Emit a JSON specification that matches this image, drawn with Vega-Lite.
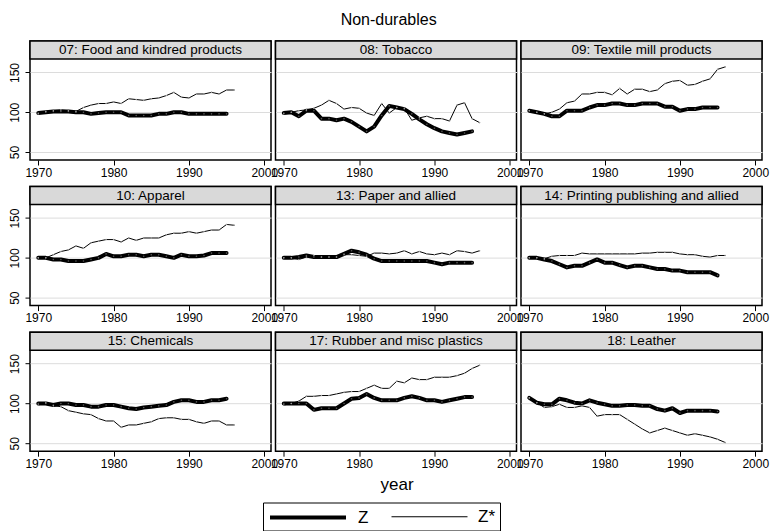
{
"$schema": "https://vega.github.io/schema/vega-lite/v6.json",
"background": "white",
"padding": {"left": 8, "top": 11, "right": 2, "bottom": 0},
"title": {"text": "Non-durables", "fontSize": 16, "fontWeight": "normal", "font": "Liberation Sans", "color": "black", "anchor": "middle", "offset": 12},
"datasets": {
"titles": [
{"p":"07","t":"07: Food and kindred products"},
{"p":"08","t":"08: Tobacco"},
{"p":"09","t":"09: Textile mill products"},
{"p":"10","t":"10: Apparel"},
{"p":"13","t":"13: Paper and allied"},
{"p":"14","t":"14: Printing publishing and allied"},
{"p":"15","t":"15: Chemicals"},
{"p":"17","t":"17: Rubber and misc plastics"},
{"p":"18","t":"18: Leather"}
],
"d": [
{"p":"07","s":"Z","x":1970,"y":99},{"p":"07","s":"Z","x":1971,"y":100},{"p":"07","s":"Z","x":1972,"y":101},{"p":"07","s":"Z","x":1973,"y":101},{"p":"07","s":"Z","x":1974,"y":101},{"p":"07","s":"Z","x":1975,"y":100},{"p":"07","s":"Z","x":1976,"y":100},{"p":"07","s":"Z","x":1977,"y":98},{"p":"07","s":"Z","x":1978,"y":99},{"p":"07","s":"Z","x":1979,"y":100},{"p":"07","s":"Z","x":1980,"y":100},{"p":"07","s":"Z","x":1981,"y":100},{"p":"07","s":"Z","x":1982,"y":96},{"p":"07","s":"Z","x":1983,"y":96},{"p":"07","s":"Z","x":1984,"y":96},{"p":"07","s":"Z","x":1985,"y":96},{"p":"07","s":"Z","x":1986,"y":98},{"p":"07","s":"Z","x":1987,"y":98},{"p":"07","s":"Z","x":1988,"y":100},{"p":"07","s":"Z","x":1989,"y":100},{"p":"07","s":"Z","x":1990,"y":98},{"p":"07","s":"Z","x":1991,"y":98},{"p":"07","s":"Z","x":1992,"y":98},{"p":"07","s":"Z","x":1993,"y":98},{"p":"07","s":"Z","x":1994,"y":98},{"p":"07","s":"Z","x":1995,"y":98},
{"p":"07","s":"Z*","x":1970,"y":98},{"p":"07","s":"Z*","x":1971,"y":101},{"p":"07","s":"Z*","x":1972,"y":102},{"p":"07","s":"Z*","x":1973,"y":103},{"p":"07","s":"Z*","x":1974,"y":102},{"p":"07","s":"Z*","x":1975,"y":101},{"p":"07","s":"Z*","x":1976,"y":106},{"p":"07","s":"Z*","x":1977,"y":109},{"p":"07","s":"Z*","x":1978,"y":111},{"p":"07","s":"Z*","x":1979,"y":111},{"p":"07","s":"Z*","x":1980,"y":113},{"p":"07","s":"Z*","x":1981,"y":111},{"p":"07","s":"Z*","x":1982,"y":117},{"p":"07","s":"Z*","x":1983,"y":116},{"p":"07","s":"Z*","x":1984,"y":115},{"p":"07","s":"Z*","x":1985,"y":117},{"p":"07","s":"Z*","x":1986,"y":118},{"p":"07","s":"Z*","x":1987,"y":121},{"p":"07","s":"Z*","x":1988,"y":125},{"p":"07","s":"Z*","x":1989,"y":119},{"p":"07","s":"Z*","x":1990,"y":118},{"p":"07","s":"Z*","x":1991,"y":123},{"p":"07","s":"Z*","x":1992,"y":123},{"p":"07","s":"Z*","x":1993,"y":125},{"p":"07","s":"Z*","x":1994,"y":123},{"p":"07","s":"Z*","x":1995,"y":128},{"p":"07","s":"Z*","x":1996,"y":128},
{"p":"08","s":"Z","x":1970,"y":99},{"p":"08","s":"Z","x":1971,"y":100},{"p":"08","s":"Z","x":1972,"y":95},{"p":"08","s":"Z","x":1973,"y":102},{"p":"08","s":"Z","x":1974,"y":102},{"p":"08","s":"Z","x":1975,"y":92},{"p":"08","s":"Z","x":1976,"y":92},{"p":"08","s":"Z","x":1977,"y":90},{"p":"08","s":"Z","x":1978,"y":92},{"p":"08","s":"Z","x":1979,"y":88},{"p":"08","s":"Z","x":1980,"y":82},{"p":"08","s":"Z","x":1981,"y":76},{"p":"08","s":"Z","x":1982,"y":82},{"p":"08","s":"Z","x":1983,"y":96},{"p":"08","s":"Z","x":1984,"y":108},{"p":"08","s":"Z","x":1985,"y":106},{"p":"08","s":"Z","x":1986,"y":104},{"p":"08","s":"Z","x":1987,"y":98},{"p":"08","s":"Z","x":1988,"y":91},{"p":"08","s":"Z","x":1989,"y":85},{"p":"08","s":"Z","x":1990,"y":80},{"p":"08","s":"Z","x":1991,"y":76},{"p":"08","s":"Z","x":1992,"y":74},{"p":"08","s":"Z","x":1993,"y":72},{"p":"08","s":"Z","x":1994,"y":74},{"p":"08","s":"Z","x":1995,"y":76},
{"p":"08","s":"Z*","x":1970,"y":98},{"p":"08","s":"Z*","x":1971,"y":100},{"p":"08","s":"Z*","x":1972,"y":102},{"p":"08","s":"Z*","x":1973,"y":103},{"p":"08","s":"Z*","x":1974,"y":105},{"p":"08","s":"Z*","x":1975,"y":109},{"p":"08","s":"Z*","x":1976,"y":115},{"p":"08","s":"Z*","x":1977,"y":111},{"p":"08","s":"Z*","x":1978,"y":104},{"p":"08","s":"Z*","x":1979,"y":106},{"p":"08","s":"Z*","x":1980,"y":105},{"p":"08","s":"Z*","x":1981,"y":99},{"p":"08","s":"Z*","x":1982,"y":96},{"p":"08","s":"Z*","x":1983,"y":111},{"p":"08","s":"Z*","x":1984,"y":99},{"p":"08","s":"Z*","x":1985,"y":106},{"p":"08","s":"Z*","x":1986,"y":105},{"p":"08","s":"Z*","x":1987,"y":90},{"p":"08","s":"Z*","x":1988,"y":93},{"p":"08","s":"Z*","x":1989,"y":95},{"p":"08","s":"Z*","x":1990,"y":92},{"p":"08","s":"Z*","x":1991,"y":92},{"p":"08","s":"Z*","x":1992,"y":89},{"p":"08","s":"Z*","x":1993,"y":109},{"p":"08","s":"Z*","x":1994,"y":112},{"p":"08","s":"Z*","x":1995,"y":92},{"p":"08","s":"Z*","x":1996,"y":87},
{"p":"09","s":"Z","x":1970,"y":102},{"p":"09","s":"Z","x":1971,"y":100},{"p":"09","s":"Z","x":1972,"y":98},{"p":"09","s":"Z","x":1973,"y":95},{"p":"09","s":"Z","x":1974,"y":95},{"p":"09","s":"Z","x":1975,"y":102},{"p":"09","s":"Z","x":1976,"y":102},{"p":"09","s":"Z","x":1977,"y":102},{"p":"09","s":"Z","x":1978,"y":106},{"p":"09","s":"Z","x":1979,"y":109},{"p":"09","s":"Z","x":1980,"y":109},{"p":"09","s":"Z","x":1981,"y":111},{"p":"09","s":"Z","x":1982,"y":111},{"p":"09","s":"Z","x":1983,"y":109},{"p":"09","s":"Z","x":1984,"y":109},{"p":"09","s":"Z","x":1985,"y":111},{"p":"09","s":"Z","x":1986,"y":111},{"p":"09","s":"Z","x":1987,"y":111},{"p":"09","s":"Z","x":1988,"y":107},{"p":"09","s":"Z","x":1989,"y":107},{"p":"09","s":"Z","x":1990,"y":102},{"p":"09","s":"Z","x":1991,"y":104},{"p":"09","s":"Z","x":1992,"y":104},{"p":"09","s":"Z","x":1993,"y":106},{"p":"09","s":"Z","x":1994,"y":106},{"p":"09","s":"Z","x":1995,"y":106},
{"p":"09","s":"Z*","x":1970,"y":102},{"p":"09","s":"Z*","x":1971,"y":100},{"p":"09","s":"Z*","x":1972,"y":98},{"p":"09","s":"Z*","x":1973,"y":100},{"p":"09","s":"Z*","x":1974,"y":104},{"p":"09","s":"Z*","x":1975,"y":112},{"p":"09","s":"Z*","x":1976,"y":114},{"p":"09","s":"Z*","x":1977,"y":123},{"p":"09","s":"Z*","x":1978,"y":123},{"p":"09","s":"Z*","x":1979,"y":125},{"p":"09","s":"Z*","x":1980,"y":125},{"p":"09","s":"Z*","x":1981,"y":122},{"p":"09","s":"Z*","x":1982,"y":130},{"p":"09","s":"Z*","x":1983,"y":123},{"p":"09","s":"Z*","x":1984,"y":129},{"p":"09","s":"Z*","x":1985,"y":129},{"p":"09","s":"Z*","x":1986,"y":126},{"p":"09","s":"Z*","x":1987,"y":128},{"p":"09","s":"Z*","x":1988,"y":136},{"p":"09","s":"Z*","x":1989,"y":139},{"p":"09","s":"Z*","x":1990,"y":140},{"p":"09","s":"Z*","x":1991,"y":134},{"p":"09","s":"Z*","x":1992,"y":135},{"p":"09","s":"Z*","x":1993,"y":139},{"p":"09","s":"Z*","x":1994,"y":142},{"p":"09","s":"Z*","x":1995,"y":154},{"p":"09","s":"Z*","x":1996,"y":157},
{"p":"10","s":"Z","x":1970,"y":100},{"p":"10","s":"Z","x":1971,"y":100},{"p":"10","s":"Z","x":1972,"y":98},{"p":"10","s":"Z","x":1973,"y":98},{"p":"10","s":"Z","x":1974,"y":96},{"p":"10","s":"Z","x":1975,"y":96},{"p":"10","s":"Z","x":1976,"y":96},{"p":"10","s":"Z","x":1977,"y":98},{"p":"10","s":"Z","x":1978,"y":100},{"p":"10","s":"Z","x":1979,"y":105},{"p":"10","s":"Z","x":1980,"y":102},{"p":"10","s":"Z","x":1981,"y":102},{"p":"10","s":"Z","x":1982,"y":104},{"p":"10","s":"Z","x":1983,"y":104},{"p":"10","s":"Z","x":1984,"y":102},{"p":"10","s":"Z","x":1985,"y":104},{"p":"10","s":"Z","x":1986,"y":104},{"p":"10","s":"Z","x":1987,"y":102},{"p":"10","s":"Z","x":1988,"y":100},{"p":"10","s":"Z","x":1989,"y":104},{"p":"10","s":"Z","x":1990,"y":102},{"p":"10","s":"Z","x":1991,"y":102},{"p":"10","s":"Z","x":1992,"y":103},{"p":"10","s":"Z","x":1993,"y":106},{"p":"10","s":"Z","x":1994,"y":106},{"p":"10","s":"Z","x":1995,"y":106},
{"p":"10","s":"Z*","x":1970,"y":100},{"p":"10","s":"Z*","x":1971,"y":100},{"p":"10","s":"Z*","x":1972,"y":104},{"p":"10","s":"Z*","x":1973,"y":108},{"p":"10","s":"Z*","x":1974,"y":110},{"p":"10","s":"Z*","x":1975,"y":115},{"p":"10","s":"Z*","x":1976,"y":112},{"p":"10","s":"Z*","x":1977,"y":119},{"p":"10","s":"Z*","x":1978,"y":121},{"p":"10","s":"Z*","x":1979,"y":123},{"p":"10","s":"Z*","x":1980,"y":123},{"p":"10","s":"Z*","x":1981,"y":120},{"p":"10","s":"Z*","x":1982,"y":125},{"p":"10","s":"Z*","x":1983,"y":122},{"p":"10","s":"Z*","x":1984,"y":125},{"p":"10","s":"Z*","x":1985,"y":125},{"p":"10","s":"Z*","x":1986,"y":125},{"p":"10","s":"Z*","x":1987,"y":129},{"p":"10","s":"Z*","x":1988,"y":131},{"p":"10","s":"Z*","x":1989,"y":131},{"p":"10","s":"Z*","x":1990,"y":133},{"p":"10","s":"Z*","x":1991,"y":131},{"p":"10","s":"Z*","x":1992,"y":133},{"p":"10","s":"Z*","x":1993,"y":135},{"p":"10","s":"Z*","x":1994,"y":135},{"p":"10","s":"Z*","x":1995,"y":142},{"p":"10","s":"Z*","x":1996,"y":141},
{"p":"13","s":"Z","x":1970,"y":100},{"p":"13","s":"Z","x":1971,"y":100},{"p":"13","s":"Z","x":1972,"y":101},{"p":"13","s":"Z","x":1973,"y":103},{"p":"13","s":"Z","x":1974,"y":101},{"p":"13","s":"Z","x":1975,"y":101},{"p":"13","s":"Z","x":1976,"y":101},{"p":"13","s":"Z","x":1977,"y":101},{"p":"13","s":"Z","x":1978,"y":105},{"p":"13","s":"Z","x":1979,"y":109},{"p":"13","s":"Z","x":1980,"y":107},{"p":"13","s":"Z","x":1981,"y":104},{"p":"13","s":"Z","x":1982,"y":99},{"p":"13","s":"Z","x":1983,"y":96},{"p":"13","s":"Z","x":1984,"y":96},{"p":"13","s":"Z","x":1985,"y":96},{"p":"13","s":"Z","x":1986,"y":96},{"p":"13","s":"Z","x":1987,"y":96},{"p":"13","s":"Z","x":1988,"y":96},{"p":"13","s":"Z","x":1989,"y":96},{"p":"13","s":"Z","x":1990,"y":94},{"p":"13","s":"Z","x":1991,"y":92},{"p":"13","s":"Z","x":1992,"y":94},{"p":"13","s":"Z","x":1993,"y":94},{"p":"13","s":"Z","x":1994,"y":94},{"p":"13","s":"Z","x":1995,"y":94},
{"p":"13","s":"Z*","x":1970,"y":100},{"p":"13","s":"Z*","x":1971,"y":100},{"p":"13","s":"Z*","x":1972,"y":98},{"p":"13","s":"Z*","x":1973,"y":101},{"p":"13","s":"Z*","x":1974,"y":103},{"p":"13","s":"Z*","x":1975,"y":101},{"p":"13","s":"Z*","x":1976,"y":101},{"p":"13","s":"Z*","x":1977,"y":101},{"p":"13","s":"Z*","x":1978,"y":104},{"p":"13","s":"Z*","x":1979,"y":104},{"p":"13","s":"Z*","x":1980,"y":103},{"p":"13","s":"Z*","x":1981,"y":102},{"p":"13","s":"Z*","x":1982,"y":106},{"p":"13","s":"Z*","x":1983,"y":106},{"p":"13","s":"Z*","x":1984,"y":105},{"p":"13","s":"Z*","x":1985,"y":106},{"p":"13","s":"Z*","x":1986,"y":109},{"p":"13","s":"Z*","x":1987,"y":105},{"p":"13","s":"Z*","x":1988,"y":108},{"p":"13","s":"Z*","x":1989,"y":105},{"p":"13","s":"Z*","x":1990,"y":104},{"p":"13","s":"Z*","x":1991,"y":106},{"p":"13","s":"Z*","x":1992,"y":104},{"p":"13","s":"Z*","x":1993,"y":109},{"p":"13","s":"Z*","x":1994,"y":108},{"p":"13","s":"Z*","x":1995,"y":106},{"p":"13","s":"Z*","x":1996,"y":109},
{"p":"14","s":"Z","x":1970,"y":100},{"p":"14","s":"Z","x":1971,"y":100},{"p":"14","s":"Z","x":1972,"y":98},{"p":"14","s":"Z","x":1973,"y":96},{"p":"14","s":"Z","x":1974,"y":92},{"p":"14","s":"Z","x":1975,"y":88},{"p":"14","s":"Z","x":1976,"y":90},{"p":"14","s":"Z","x":1977,"y":90},{"p":"14","s":"Z","x":1978,"y":94},{"p":"14","s":"Z","x":1979,"y":98},{"p":"14","s":"Z","x":1980,"y":94},{"p":"14","s":"Z","x":1981,"y":94},{"p":"14","s":"Z","x":1982,"y":91},{"p":"14","s":"Z","x":1983,"y":88},{"p":"14","s":"Z","x":1984,"y":90},{"p":"14","s":"Z","x":1985,"y":90},{"p":"14","s":"Z","x":1986,"y":88},{"p":"14","s":"Z","x":1987,"y":86},{"p":"14","s":"Z","x":1988,"y":86},{"p":"14","s":"Z","x":1989,"y":84},{"p":"14","s":"Z","x":1990,"y":84},{"p":"14","s":"Z","x":1991,"y":82},{"p":"14","s":"Z","x":1992,"y":82},{"p":"14","s":"Z","x":1993,"y":82},{"p":"14","s":"Z","x":1994,"y":82},{"p":"14","s":"Z","x":1995,"y":78},
{"p":"14","s":"Z*","x":1970,"y":100},{"p":"14","s":"Z*","x":1971,"y":100},{"p":"14","s":"Z*","x":1972,"y":99},{"p":"14","s":"Z*","x":1973,"y":102},{"p":"14","s":"Z*","x":1974,"y":103},{"p":"14","s":"Z*","x":1975,"y":103},{"p":"14","s":"Z*","x":1976,"y":103},{"p":"14","s":"Z*","x":1977,"y":106},{"p":"14","s":"Z*","x":1978,"y":105},{"p":"14","s":"Z*","x":1979,"y":105},{"p":"14","s":"Z*","x":1980,"y":105},{"p":"14","s":"Z*","x":1981,"y":105},{"p":"14","s":"Z*","x":1982,"y":105},{"p":"14","s":"Z*","x":1983,"y":105},{"p":"14","s":"Z*","x":1984,"y":105},{"p":"14","s":"Z*","x":1985,"y":106},{"p":"14","s":"Z*","x":1986,"y":106},{"p":"14","s":"Z*","x":1987,"y":107},{"p":"14","s":"Z*","x":1988,"y":107},{"p":"14","s":"Z*","x":1989,"y":107},{"p":"14","s":"Z*","x":1990,"y":105},{"p":"14","s":"Z*","x":1991,"y":104},{"p":"14","s":"Z*","x":1992,"y":104},{"p":"14","s":"Z*","x":1993,"y":102},{"p":"14","s":"Z*","x":1994,"y":101},{"p":"14","s":"Z*","x":1995,"y":103},{"p":"14","s":"Z*","x":1996,"y":103},
{"p":"15","s":"Z","x":1970,"y":100},{"p":"15","s":"Z","x":1971,"y":100},{"p":"15","s":"Z","x":1972,"y":98},{"p":"15","s":"Z","x":1973,"y":100},{"p":"15","s":"Z","x":1974,"y":100},{"p":"15","s":"Z","x":1975,"y":98},{"p":"15","s":"Z","x":1976,"y":98},{"p":"15","s":"Z","x":1977,"y":96},{"p":"15","s":"Z","x":1978,"y":96},{"p":"15","s":"Z","x":1979,"y":98},{"p":"15","s":"Z","x":1980,"y":98},{"p":"15","s":"Z","x":1981,"y":96},{"p":"15","s":"Z","x":1982,"y":94},{"p":"15","s":"Z","x":1983,"y":93},{"p":"15","s":"Z","x":1984,"y":95},{"p":"15","s":"Z","x":1985,"y":96},{"p":"15","s":"Z","x":1986,"y":97},{"p":"15","s":"Z","x":1987,"y":98},{"p":"15","s":"Z","x":1988,"y":102},{"p":"15","s":"Z","x":1989,"y":104},{"p":"15","s":"Z","x":1990,"y":104},{"p":"15","s":"Z","x":1991,"y":102},{"p":"15","s":"Z","x":1992,"y":102},{"p":"15","s":"Z","x":1993,"y":104},{"p":"15","s":"Z","x":1994,"y":104},{"p":"15","s":"Z","x":1995,"y":106},
{"p":"15","s":"Z*","x":1970,"y":98},{"p":"15","s":"Z*","x":1971,"y":101},{"p":"15","s":"Z*","x":1972,"y":97},{"p":"15","s":"Z*","x":1973,"y":96},{"p":"15","s":"Z*","x":1974,"y":91},{"p":"15","s":"Z*","x":1975,"y":89},{"p":"15","s":"Z*","x":1976,"y":87},{"p":"15","s":"Z*","x":1977,"y":86},{"p":"15","s":"Z*","x":1978,"y":81},{"p":"15","s":"Z*","x":1979,"y":78},{"p":"15","s":"Z*","x":1980,"y":78},{"p":"15","s":"Z*","x":1981,"y":70},{"p":"15","s":"Z*","x":1982,"y":73},{"p":"15","s":"Z*","x":1983,"y":73},{"p":"15","s":"Z*","x":1984,"y":75},{"p":"15","s":"Z*","x":1985,"y":77},{"p":"15","s":"Z*","x":1986,"y":81},{"p":"15","s":"Z*","x":1987,"y":82},{"p":"15","s":"Z*","x":1988,"y":82},{"p":"15","s":"Z*","x":1989,"y":80},{"p":"15","s":"Z*","x":1990,"y":80},{"p":"15","s":"Z*","x":1991,"y":77},{"p":"15","s":"Z*","x":1992,"y":75},{"p":"15","s":"Z*","x":1993,"y":78},{"p":"15","s":"Z*","x":1994,"y":78},{"p":"15","s":"Z*","x":1995,"y":73},{"p":"15","s":"Z*","x":1996,"y":73},
{"p":"17","s":"Z","x":1970,"y":100},{"p":"17","s":"Z","x":1971,"y":100},{"p":"17","s":"Z","x":1972,"y":100},{"p":"17","s":"Z","x":1973,"y":100},{"p":"17","s":"Z","x":1974,"y":92},{"p":"17","s":"Z","x":1975,"y":94},{"p":"17","s":"Z","x":1976,"y":94},{"p":"17","s":"Z","x":1977,"y":94},{"p":"17","s":"Z","x":1978,"y":100},{"p":"17","s":"Z","x":1979,"y":106},{"p":"17","s":"Z","x":1980,"y":107},{"p":"17","s":"Z","x":1981,"y":112},{"p":"17","s":"Z","x":1982,"y":107},{"p":"17","s":"Z","x":1983,"y":104},{"p":"17","s":"Z","x":1984,"y":104},{"p":"17","s":"Z","x":1985,"y":104},{"p":"17","s":"Z","x":1986,"y":107},{"p":"17","s":"Z","x":1987,"y":109},{"p":"17","s":"Z","x":1988,"y":107},{"p":"17","s":"Z","x":1989,"y":104},{"p":"17","s":"Z","x":1990,"y":104},{"p":"17","s":"Z","x":1991,"y":102},{"p":"17","s":"Z","x":1992,"y":104},{"p":"17","s":"Z","x":1993,"y":106},{"p":"17","s":"Z","x":1994,"y":108},{"p":"17","s":"Z","x":1995,"y":108},
{"p":"17","s":"Z*","x":1970,"y":98},{"p":"17","s":"Z*","x":1971,"y":100},{"p":"17","s":"Z*","x":1972,"y":103},{"p":"17","s":"Z*","x":1973,"y":109},{"p":"17","s":"Z*","x":1974,"y":109},{"p":"17","s":"Z*","x":1975,"y":110},{"p":"17","s":"Z*","x":1976,"y":110},{"p":"17","s":"Z*","x":1977,"y":112},{"p":"17","s":"Z*","x":1978,"y":114},{"p":"17","s":"Z*","x":1979,"y":115},{"p":"17","s":"Z*","x":1980,"y":115},{"p":"17","s":"Z*","x":1981,"y":119},{"p":"17","s":"Z*","x":1982,"y":123},{"p":"17","s":"Z*","x":1983,"y":119},{"p":"17","s":"Z*","x":1984,"y":119},{"p":"17","s":"Z*","x":1985,"y":128},{"p":"17","s":"Z*","x":1986,"y":126},{"p":"17","s":"Z*","x":1987,"y":132},{"p":"17","s":"Z*","x":1988,"y":130},{"p":"17","s":"Z*","x":1989,"y":130},{"p":"17","s":"Z*","x":1990,"y":133},{"p":"17","s":"Z*","x":1991,"y":133},{"p":"17","s":"Z*","x":1992,"y":133},{"p":"17","s":"Z*","x":1993,"y":135},{"p":"17","s":"Z*","x":1994,"y":138},{"p":"17","s":"Z*","x":1995,"y":144},{"p":"17","s":"Z*","x":1996,"y":148},
{"p":"18","s":"Z","x":1970,"y":107},{"p":"18","s":"Z","x":1971,"y":101},{"p":"18","s":"Z","x":1972,"y":99},{"p":"18","s":"Z","x":1973,"y":99},{"p":"18","s":"Z","x":1974,"y":106},{"p":"18","s":"Z","x":1975,"y":104},{"p":"18","s":"Z","x":1976,"y":101},{"p":"18","s":"Z","x":1977,"y":100},{"p":"18","s":"Z","x":1978,"y":104},{"p":"18","s":"Z","x":1979,"y":101},{"p":"18","s":"Z","x":1980,"y":99},{"p":"18","s":"Z","x":1981,"y":97},{"p":"18","s":"Z","x":1982,"y":97},{"p":"18","s":"Z","x":1983,"y":98},{"p":"18","s":"Z","x":1984,"y":98},{"p":"18","s":"Z","x":1985,"y":97},{"p":"18","s":"Z","x":1986,"y":97},{"p":"18","s":"Z","x":1987,"y":93},{"p":"18","s":"Z","x":1988,"y":91},{"p":"18","s":"Z","x":1989,"y":94},{"p":"18","s":"Z","x":1990,"y":88},{"p":"18","s":"Z","x":1991,"y":91},{"p":"18","s":"Z","x":1992,"y":91},{"p":"18","s":"Z","x":1993,"y":91},{"p":"18","s":"Z","x":1994,"y":91},{"p":"18","s":"Z","x":1995,"y":90},
{"p":"18","s":"Z*","x":1970,"y":107},{"p":"18","s":"Z*","x":1971,"y":101},{"p":"18","s":"Z*","x":1972,"y":95},{"p":"18","s":"Z*","x":1973,"y":96},{"p":"18","s":"Z*","x":1974,"y":99},{"p":"18","s":"Z*","x":1975,"y":95},{"p":"18","s":"Z*","x":1976,"y":95},{"p":"18","s":"Z*","x":1977,"y":97},{"p":"18","s":"Z*","x":1978,"y":95},{"p":"18","s":"Z*","x":1979,"y":84},{"p":"18","s":"Z*","x":1980,"y":86},{"p":"18","s":"Z*","x":1981,"y":86},{"p":"18","s":"Z*","x":1982,"y":86},{"p":"18","s":"Z*","x":1983,"y":80},{"p":"18","s":"Z*","x":1984,"y":74},{"p":"18","s":"Z*","x":1985,"y":68},{"p":"18","s":"Z*","x":1986,"y":63},{"p":"18","s":"Z*","x":1987,"y":66},{"p":"18","s":"Z*","x":1988,"y":69},{"p":"18","s":"Z*","x":1989,"y":66},{"p":"18","s":"Z*","x":1990,"y":63},{"p":"18","s":"Z*","x":1991,"y":60},{"p":"18","s":"Z*","x":1992,"y":62},{"p":"18","s":"Z*","x":1993,"y":60},{"p":"18","s":"Z*","x":1994,"y":58},{"p":"18","s":"Z*","x":1995,"y":55},{"p":"18","s":"Z*","x":1996,"y":51}
]
},
"data": {"name": "d"},
"transform": [{"lookup": "p", "from": {"data": {"name": "titles"}, "key": "p", "fields": ["t"]}}],
"facet": {"field": "p", "type": "nominal", "header": {"labels": false, "labelExpr": "''", "labelFontSize": 0, "labelPadding": 0, "title": "year", "titleOrient": "bottom", "titleFontSize": 17, "titleFontWeight": "normal", "titleFont": "Liberation Sans", "titleColor": "black", "titlePadding": 25}},
"columns": 3,
"bounds": "flush",
"spacing": {"row": 26.6, "column": 4.5},
"resolve": {"axis": {"x": "independent"}},
"spec": {
  "width": 241,
  "height": 119,
  "layer": [
    {
      "transform": [{"filter": "datum.s === 'Z' && datum.x === 1970"}],
      "mark": {"type": "rect", "fill": "#d9d9d9", "stroke": "black", "strokeWidth": 1.5},
      "encoding": {
        "x": {"datum": 1968.9, "type": "quantitative"},
        "x2": {"datum": 2000.9},
        "y": {"datum": 167, "type": "quantitative"},
        "y2": {"datum": 189.6}
      }
    },
    {
      "transform": [{"filter": "datum.s === 'Z' && datum.x === 1970"}],
      "mark": {"type": "text", "fontSize": 13.5, "font": "Liberation Sans", "color": "black", "baseline": "middle", "align": "center"},
      "encoding": {
        "x": {"datum": 1984.9, "type": "quantitative"},
        "y": {"datum": 178.3, "type": "quantitative"},
        "text": {"field": "t"}
      }
    },
    {
      "mark": {"type": "line", "strokeJoin": "round", "strokeCap": "round"},
      "encoding": {
        "x": {"field": "x", "type": "quantitative", "scale": {"domain": [1968.9, 2000.9], "nice": false, "zero": false},
              "axis": {"values": [1970, 1980, 1990, 2000], "format": "d", "title": null, "grid": false, "labelFlush": false, "domain": false, "tickColor": "black", "tickSize": 5, "labelFontSize": 12, "labelFont": "Liberation Sans", "labelColor": "black", "labelPadding": 2}},
        "y": {"field": "y", "type": "quantitative", "scale": {"domain": [40, 189.6], "nice": false, "zero": false},
              "axis": {"values": [50, 100, 150], "format": "d", "title": null, "grid": true, "gridColor": "#dcdcdc", "gridWidth": 1, "domain": false, "tickColor": "black", "tickSize": 5, "labelAngle": 270, "labelAlign": "center", "labelBaseline": "bottom", "labelFontSize": 12, "labelFont": "Liberation Sans", "labelColor": "black", "labelPadding": 4}},
        "color": {"field": "s", "type": "ordinal", "scale": {"domain": ["Z", "Z*"], "range": ["black", "black"]},
                  "legend": {"title": null, "orient": "none", "legendX": 233, "legendY": 461.5, "direction": "horizontal", "strokeColor": "black", "padding": 5, "symbolType": "M-1,0H8.5", "symbolSize": 256, "symbolFillColor": "transparent", "labelFontSize": 17, "labelFont": "Liberation Sans", "labelColor": "black", "labelOffset": 70, "columnPadding": 20}},
        "strokeWidth": {"field": "s", "type": "ordinal", "scale": {"domain": ["Z", "Z*"], "range": [4, 1]}}
      }
    },
    {
      "mark": {"type": "point", "filled": true, "size": 2.5, "opacity": 1},
      "encoding": {
        "x": {"field": "x", "type": "quantitative"},
        "y": {"field": "y", "type": "quantitative"},
        "color": {"condition": {"test": "datum.s === 'Z'", "value": "#5a5a5a"}, "value": "#a0a0a0"}
      }
    }
  ]
},
"config": {
  "view": {"stroke": "black", "strokeWidth": 1.5, "fill": "white"},
  "font": "Liberation Sans"
}
}
